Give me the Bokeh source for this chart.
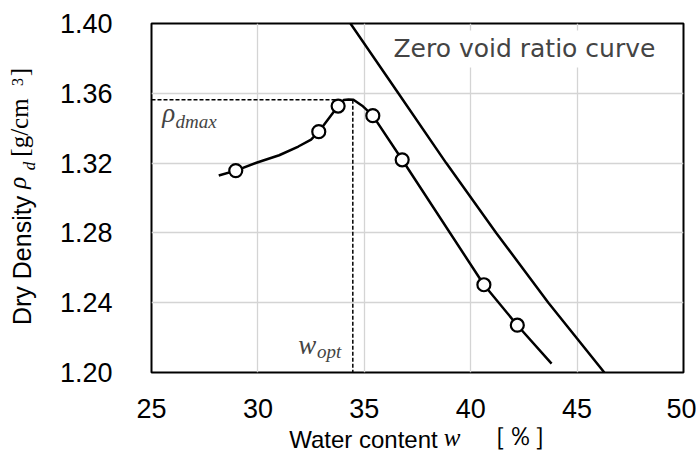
from bokeh.plotting import figure
from bokeh.models import Label, FixedTicker, Range1d, NumeralTickFormatter, LinearAxis
from bokeh.embed import file_html
from bokeh.resources import INLINE

# ---- data ----
w_test = [28.96, 32.86, 33.77, 35.40, 36.78, 40.62, 42.19]
rho_test = [1.3157, 1.338, 1.3527, 1.3472, 1.3219, 1.2503, 1.2271]

curve_w = [28.16, 28.96, 30.0, 31.0, 31.9, 32.5, 32.86, 33.77, 34.03, 34.26, 34.49, 34.90, 35.40, 36.78, 40.62, 42.19, 43.80]
curve_rho = [1.3129, 1.3157, 1.3205, 1.3245, 1.3295, 1.3335, 1.338, 1.3527, 1.3561, 1.3565, 1.3563, 1.3529, 1.3472, 1.3219, 1.2503, 1.2271, 1.2051]

zv_w = [34.35, 36.6, 38.85, 41.2, 43.65, 46.28]
zv_rho = [1.40, 1.36, 1.32, 1.28, 1.24, 1.20]

rho_dmax = 1.3563
w_opt = 34.46

x_ticks = [25, 30, 35, 40, 45, 50]
y_ticks = [1.20, 1.24, 1.28, 1.32, 1.36, 1.40]

SANS = "Liberation Sans"
WIDE = "DejaVu Sans"
SERIF = "Liberation Serif"

p = figure(width=696, height=462, output_backend="svg", toolbar_location=None,
           x_range=Range1d(25, 50), y_range=Range1d(1.20, 1.40),
           min_border_left=151, min_border_right=13, min_border_top=23, min_border_bottom=90)

p.outline_line_color = "black"
p.outline_line_width = 2
p.background_fill_color = "white"
p.border_fill_color = "white"


def plain_axis(ax):
    ax.axis_line_color = None
    ax.major_tick_out = 0
    ax.major_tick_in = 0
    ax.minor_tick_out = 0
    ax.minor_tick_in = 0
    ax.major_label_text_color = "black"


for ax in (p.xaxis[0], p.yaxis[0]):
    plain_axis(ax)
    ax.major_label_text_font = SANS
    ax.major_label_text_font_size = "27px"

p.xaxis[0].ticker = FixedTicker(ticks=x_ticks, minor_ticks=[])
p.yaxis[0].ticker = FixedTicker(ticks=y_ticks, minor_ticks=[])
p.yaxis[0].formatter = NumeralTickFormatter(format="0.00")
p.xaxis[0].major_label_standoff = 26
p.yaxis[0].major_label_standoff = 39

p.xgrid[0].ticker = FixedTicker(ticks=x_ticks)
p.ygrid[0].ticker = FixedTicker(ticks=y_ticks)
for g in (p.xgrid[0], p.ygrid[0]):
    g.grid_line_color = "#d4d4d4"
    g.grid_line_width = 1.3

# dashed guides
p.line([25, w_opt - 0.8], [rho_dmax, rho_dmax], line_color="black", line_width=1.5, line_dash="4 2")
p.line([w_opt, w_opt], [rho_dmax, 1.20], line_color="black", line_width=1.5, line_dash="4 2")

# curves
p.line(zv_w, zv_rho, line_color="black", line_width=2.5)
p.line(curve_w, curve_rho, line_color="black", line_width=2.5)
p.scatter(w_test, rho_test, size=13, fill_color="white", line_color="black", line_width=2.2)

# in-plot annotations
p.add_layout(Label(x=25.5, y=1.3489, text="ρ", text_font=SERIF, text_font_style="italic",
                   text_font_size="27px", text_baseline="alphabetic"))
p.add_layout(Label(x=26.13, y=1.3438, text="dmax", text_font=SERIF, text_font_style="italic",
                   text_font_size="19px", text_baseline="alphabetic"))
p.add_layout(Label(x=31.9, y=1.2158, text="w", text_font=SERIF, text_font_style="italic",
                   text_font_size="27px", text_baseline="alphabetic"))
p.add_layout(Label(x=32.78, y=1.2123, text="opt", text_font=SERIF, text_font_style="italic",
                   text_font_size="19px", text_baseline="alphabetic"))
p.add_layout(Label(x=36.18, y=1.3854, text="Zero void ratio curve", text_font=WIDE,
                   text_font_size="25px", text_baseline="alphabetic",
                   background_fill_color="white", padding=4))


# axis titles: pieces drawn as tick labels of extra axes (mixed fonts)
def title_axis(side, pieces, font, size, style, standoff, vertical=False):
    ax = LinearAxis(ticker=FixedTicker(ticks=[pos for pos, _ in pieces], minor_ticks=[]),
                    major_label_overrides={pos: txt for pos, txt in pieces})
    plain_axis(ax)
    ax.major_label_text_font = font
    ax.major_label_text_font_size = size
    ax.major_label_text_font_style = style
    ax.major_label_standoff = standoff
    if vertical:
        ax.major_label_orientation = "vertical"
    p.add_layout(ax, side)


# x-axis title: "Water content w [%]"
title_axis("below", [(34.96, "Water content")], SANS, "24px", "normal", 5)
title_axis("below", [(39.13, "w")], SERIF, "25px", "italic", -32)
title_axis("below", [(42.34, "［％］")], SERIF, "26px", "normal", -34)

# y-axis title: "Dry Density ρd [g/cm3]"
title_axis("left", [(1.2642, "Dry Density")], SANS, "25px", "normal", 20, True)
title_axis("left", [(1.3404, "[g/cm"), (1.3722, "]")], SERIF, "25px", "normal", -28, True)
title_axis("left", [(1.3087, "ρ")], SERIF, "25px", "italic", -28, True)
title_axis("left", [(1.3184, "d")], SERIF, "17px", "italic", -38, True)
title_axis("left", [(1.3665, "3")], SERIF, "16px", "normal", -22, True)

open("out.html", "w").write(file_html(p, INLINE))
